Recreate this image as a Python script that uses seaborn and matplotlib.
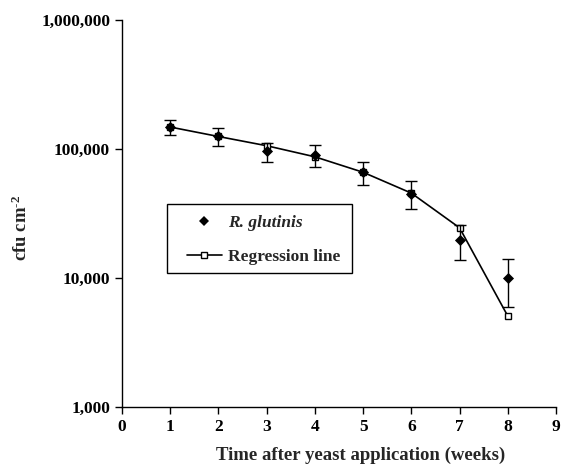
import numpy as np
import pandas as pd
import matplotlib
matplotlib.use("Agg")
import matplotlib.pyplot as plt
from matplotlib.ticker import FuncFormatter, NullLocator, FixedLocator
from matplotlib.patches import Rectangle
from matplotlib.lines import Line2D
import seaborn as sns

# ---- data ----
weeks = [1, 2, 3, 4, 5, 6, 7, 8]
glutinis_mean = [149000, 125000, 96000, 90000, 66000, 45000, 19700, 10000]
glutinis_sd = [20000, 20000, 16000, 17000, 13000, 11000, 5900, 4000]
regression = [148000, 125000, 106000, 87000, 66000, 45500, 24500, 5070]
x_ticks = [0, 1, 2, 3, 4, 5, 6, 7, 8, 9]
y_ticks = [1000, 10000, 100000, 1000000]

df = pd.DataFrame({"week": weeks, "mean": glutinis_mean, "sd": glutinis_sd, "reg": regression})

sns.set_style("ticks")
plt.rcParams["font.family"] = ["Liberation Serif", "DejaVu Serif"]
plt.rcParams["font.weight"] = "bold"
plt.rcParams["mathtext.fontset"] = "custom"
plt.rcParams["mathtext.rm"] = "Liberation Serif:bold"
plt.rcParams["mathtext.bf"] = "Liberation Serif:bold"
plt.rcParams["mathtext.it"] = "Liberation Serif:bold:italic"

fig = plt.figure(figsize=(5.62, 4.69), dpi=100)
ax = fig.add_axes([122/562, 62/469, 434/562, 387/469])

# regression line
sns.lineplot(data=df, x="week", y="reg", ax=ax, color="black", linewidth=1.2,
             marker="s", markersize=5, markerfacecolor="white", markeredgecolor="black",
             markeredgewidth=1.0, zorder=3)
# error bars
ax.errorbar(df["week"], df["mean"], yerr=df["sd"], fmt="none", ecolor="black",
            elinewidth=1.0, capsize=4, capthick=1.0, zorder=4)
# observed means
sns.scatterplot(data=df, x="week", y="mean", ax=ax, marker="D", s=32, color="black",
                edgecolor="black", linewidth=0, zorder=5)

ax.set_yscale("log")
ax.set_xlim(0, 9)
ax.set_ylim(1000, 1000000)
ax.xaxis.set_major_locator(FixedLocator(x_ticks))
ax.yaxis.set_major_locator(FixedLocator(y_ticks))
ax.yaxis.set_minor_locator(NullLocator())
ax.xaxis.set_minor_locator(NullLocator())
ax.yaxis.set_major_formatter(FuncFormatter(lambda v, p: f"{int(round(v)):,}"))
ax.tick_params(axis="both", direction="out", length=5, width=1, labelsize=12.5, colors="black")
for lab in ax.get_xticklabels() + ax.get_yticklabels():
    lab.set_fontweight("bold")
for s in ["top", "right"]:
    ax.spines[s].set_visible(False)
for s in ["left", "bottom"]:
    ax.spines[s].set_linewidth(1.0)
    ax.spines[s].set_color("black")

ax.set_xlabel("Time after yeast application (weeks)", fontsize=13.5, fontweight="bold")
ax.xaxis.set_label_coords((361-122)/434, -(447-407)/387)
ax.set_ylabel(r"cfu cm$^{\text{-}2}$", fontsize=13.5, fontweight="bold")
ax.yaxis.set_label_coords(-(122-31)/434, (407-228)/387)

# legend
h1 = Line2D([], [], linestyle="none", marker="D", markersize=5.5, color="black", markeredgewidth=0)
h2 = Line2D([], [], color="black", linewidth=1.2, marker="s", markersize=5,
            markerfacecolor="white", markeredgecolor="black", markeredgewidth=1.0)
leg = ax.legend([h1, h2], ["R. glutinis", "Regression line"], loc="center left",
                bbox_to_anchor=((187-122)/434, (407-240)/387), frameon=False,
                borderpad=0, borderaxespad=0, handlelength=2.0, handletextpad=0.35,
                labelspacing=1.0, fontsize=12.5)
texts = leg.get_texts()
texts[0].set_fontstyle("italic")
for t in texts:
    t.set_fontweight("bold")
ax.add_patch(Rectangle(((166.7-122)/434, (407-272.7)/387), (352-166.7)/434, (272.7-204.3)/387,
                       transform=ax.transAxes, fill=False, edgecolor="black", linewidth=1.0,
                       zorder=6, clip_on=False))

fig.savefig("out.png", dpi=100)
